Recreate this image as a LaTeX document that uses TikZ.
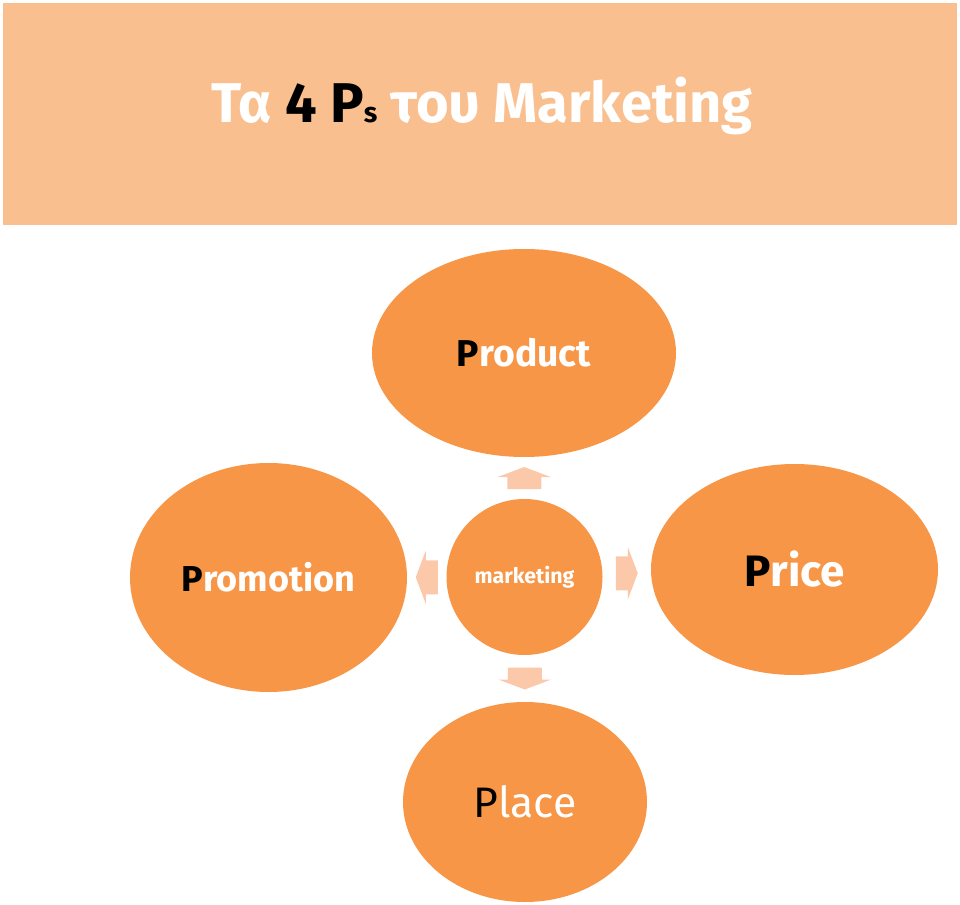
\documentclass[tikz,border=0pt]{standalone}
\usepackage{fontspec}
\setmainfont{Fira Sans}
\usetikzlibrary{shapes,arrows,positioning,calc}

\definecolor{bannerfill}{RGB}{250,191,143}
\definecolor{ballfill}{RGB}{247,150,70}
\definecolor{arrowfill}{RGB}{251,201,170}

\tikzset{
  pball/.style={ellipse, fill=ballfill, draw=none, inner sep=0pt, text=white},
  blockarrow/.pic={
    \fill [arrowfill] (-11,-17) -- (1,-17) -- (1,-26.5) -- (11,0) -- (1,26.5) -- (1,17) -- (-11,17) -- cycle ;
  }
}

\begin{document}
\begin{tikzpicture}[x=0.75pt,y=0.75pt,yscale=-1,xscale=1]
\useasboundingbox (0,0) rectangle (960,905);

%Shape: Rectangle [id:banner]
\fill [bannerfill] (3,3) rectangle (957,225);
% Text Node
\node [font=\fontsize{42}{48}\selectfont\bfseries, text=white] (title) at (482,106)
  {Τα {\color{black}4 P{\fontsize{21}{21}\selectfont s}} του Marketing};

%Shape: Ellipse [id:product]
\node [pball, minimum width=228pt, minimum height=156pt, font=\fontsize{28}{33}\selectfont\bfseries] (product) at (524,353) {{\color{black}P}roduct};
%Shape: Ellipse [id:promotion]
\node [pball, minimum width=207.75pt, minimum height=171.75pt, font=\fontsize{27}{32}\selectfont\bfseries] (promotion) at (268.5,577.5) {{\color{black}P}romotion};
%Shape: Ellipse [id:price]
\node [pball, minimum width=215.25pt, minimum height=158.25pt, font=\fontsize{33}{39}\selectfont\bfseries] (price) at (794.5,569.5) {{\color{black}P}rice};
%Shape: Ellipse [id:place]
\node [pball, minimum width=183pt, minimum height=150pt, font=\fontsize{32}{37}\selectfont] (place) at (525,802) {{\color{black}P}lace};
%Shape: Circle [id:hub]
\node [pball, circle, minimum size=117pt, font=\fontsize{16}{19}\selectfont\bfseries] (hub) at (524.5,577) {marketing};

%Block Arrows
\coordinate (toproduct) at ($(hub.north)!0.5!(product.south)$);
\coordinate (toplace) at ($(hub.south)!0.5!(place.north)$);
\coordinate (topromotion) at ($(hub.west)!0.5!(promotion.east)$);
\coordinate (toprice) at ($(hub.east)!0.5!(price.west)$);
\pic [rotate=90] at (toproduct) {blockarrow};
\pic [rotate=-90] at (toplace) {blockarrow};
\pic [rotate=180] at (topromotion) {blockarrow};
\pic [rotate=0] at (toprice) {blockarrow};

\end{tikzpicture}
\end{document}
